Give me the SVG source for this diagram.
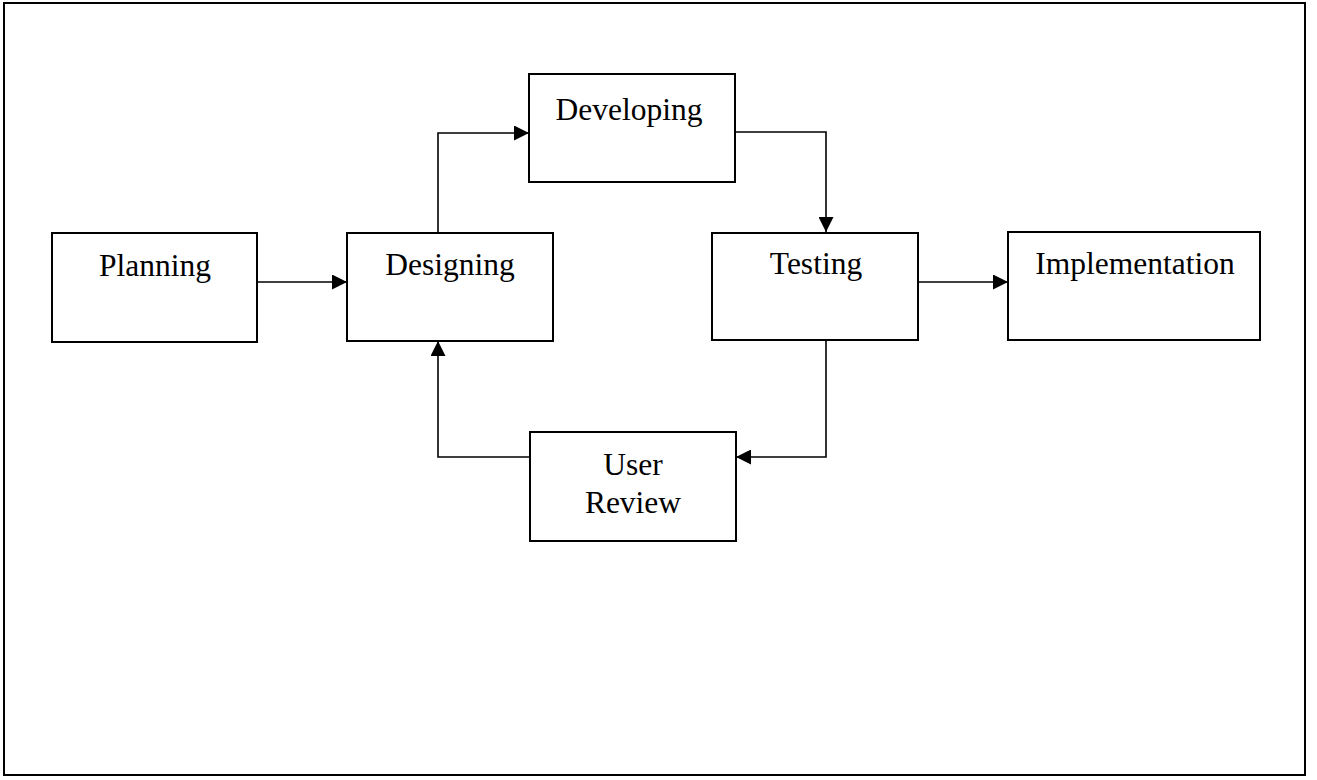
<svg xmlns="http://www.w3.org/2000/svg" width="1317" height="780" viewBox="0 0 1317 780">
  <defs>
    <style>
      .box { fill: #ffffff; stroke: #000000; stroke-width: 2; }
      .frame { fill: #ffffff; stroke: #000000; stroke-width: 2; }
      .lbl { font-family: "Liberation Serif", "Times New Roman", serif; font-size: 31.5px; fill: #000000; text-anchor: middle; }
      .conn { fill: none; stroke: #000000; stroke-width: 1.6; marker-end: url(#arrow); }
    </style>
    <marker id="arrow" markerUnits="userSpaceOnUse" markerWidth="15" markerHeight="15" refX="15" refY="7.5" orient="auto">
      <path d="M0,0 L15,7.5 L0,15 z" fill="#000000"/>
    </marker>
  </defs>

  <rect class="frame" x="4" y="3" width="1301" height="772"/>

  <g id="connectors">
    <path class="conn" d="M257,282 H347"/>
    <path class="conn" d="M438,232 V133 H529"/>
    <path class="conn" d="M735,132 H826 V232"/>
    <path class="conn" d="M918,282 H1008"/>
    <path class="conn" d="M826,340 V457 H736"/>
    <path class="conn" d="M530,457 H438 V341"/>
  </g>

  <g id="planning">
    <rect class="box" x="52" y="233" width="205" height="109"/>
    <text class="lbl" x="155" y="276">Planning</text>
  </g>
  <g id="designing">
    <rect class="box" x="347" y="233" width="206" height="108"/>
    <text class="lbl" x="450" y="275">Designing</text>
  </g>
  <g id="developing">
    <rect class="box" x="529" y="74" width="206" height="108"/>
    <text class="lbl" x="629" y="120">Developing</text>
  </g>
  <g id="testing">
    <rect class="box" x="712" y="233" width="206" height="107"/>
    <text class="lbl" x="816" y="274">Testing</text>
  </g>
  <g id="implementation">
    <rect class="box" x="1008" y="232" width="252" height="108"/>
    <text class="lbl" x="1135" y="274">Implementation</text>
  </g>
  <g id="user-review">
    <rect class="box" x="530" y="432" width="206" height="109"/>
    <text class="lbl" x="633" y="475">User</text>
    <text class="lbl" x="633" y="513">Review</text>
  </g>
</svg>
